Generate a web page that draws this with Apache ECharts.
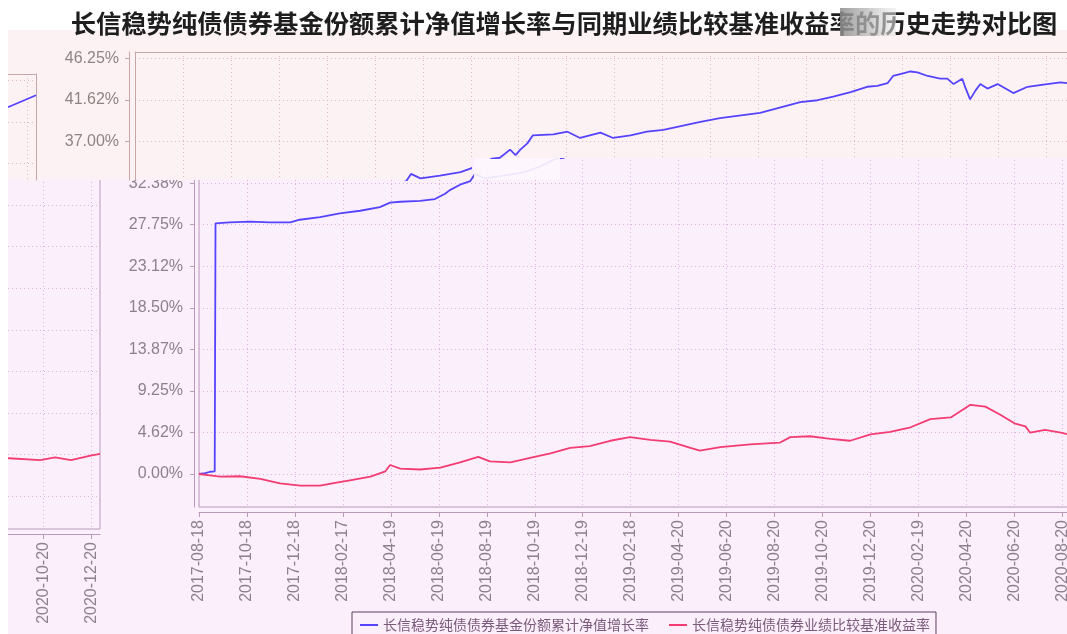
<!DOCTYPE html>
<html><head><meta charset="utf-8">
<script src="https://cdn.jsdelivr.net/npm/echarts@6/dist/echarts.min.js"></script>
<style>html,body{margin:0;padding:0;background:#fff}#c{width:1067px;height:634px}</style>
</head><body><div id="c"></div>
<script>
// ---------------- data ----------------
const titleText = '长信稳势纯债债券基金份额累计净值增长率与同期业绩比较基准收益率的历史走势对比图';
const seriesNames = ['长信稳势纯债债券基金份额累计净值增长率', '长信稳势纯债债券业绩比较基准收益率'];
const xTickLabels = ['2017-08-18','2017-10-18','2017-12-18','2018-02-17','2018-04-19','2018-06-19','2018-08-19',
  '2018-10-19','2018-12-19','2019-02-18','2019-04-20','2019-06-20','2019-08-20','2019-10-20','2019-12-20',
  '2020-02-19','2020-04-20','2020-06-20','2020-08-20','2020-10-20','2020-12-20'];
const yTickValues = [0, 4.625, 9.25, 13.875, 18.5, 23.125, 27.75, 32.375, 37, 41.625, 46.25];
const yTickLabels = ['0.00%','4.62%','9.25%','13.87%','18.50%','23.12%','27.75%','32.38%','37.00%','41.62%','46.25%'];
const lastDate = '2020-12-31';

const navDates = ['2017-08-18','2017-08-26','2017-09-01','2017-09-07','2017-09-08','2017-09-26','2017-10-22','2017-11-16',
  '2017-12-12','2017-12-24','2018-01-19','2018-02-13','2018-03-11','2018-04-05','2018-04-18','2018-05-01','2018-05-26',
  '2018-06-14','2018-06-27','2018-07-03','2018-07-16','2018-07-29','2018-08-04','2018-08-16','2018-09-10','2018-10-06',
  '2018-10-25','2018-11-15','2018-11-25','2018-12-08','2018-12-15','2018-12-21','2018-12-30','2019-01-06','2019-02-01',
  '2019-02-19','2019-03-07','2019-04-02','2019-04-18','2019-05-10','2019-05-31','2019-06-21','2019-08-07','2019-09-01',
  '2019-10-22','2019-12-12','2020-01-03','2020-01-23','2020-02-14','2020-03-06','2020-03-19','2020-04-01','2020-04-08',
  '2020-04-21','2020-04-30','2020-05-09','2020-05-22','2020-06-07','2020-06-16','2020-06-24','2020-07-05','2020-07-09',
  '2020-07-15','2020-07-22','2020-07-28','2020-08-06','2020-08-19','2020-09-08','2020-09-26','2020-10-21','2020-11-07',
  '2020-11-16','2020-11-26','2020-12-31'];
const navValues = [0.00,0.10,0.25,0.30,27.90,28.00,28.10,28.00,
  28.00,28.30,28.60,29.00,29.30,29.70,30.20,30.30,30.40,
  30.60,31.20,31.60,32.20,32.60,33.40,32.90,33.20,33.60,
  34.20,35.10,35.20,36.10,35.50,36.10,36.80,37.70,37.80,
  38.10,37.40,38.00,37.40,37.70,38.10,38.30,39.20,39.60,
  40.20,41.40,41.60,42.00,42.50,43.10,43.20,43.50,44.30,
  44.60,44.80,44.70,44.30,44.00,44.00,43.40,44.00,43.00,
  41.70,42.70,43.40,42.90,43.40,42.40,43.10,43.40,43.60,
  43.50,43.30,44.60];

const benchDates = ['2017-08-18','2017-09-01','2017-09-14','2017-10-09','2017-11-04','2017-11-29','2017-12-25','2018-01-19',
  '2018-02-07','2018-02-26','2018-03-24','2018-04-12','2018-04-18','2018-05-01','2018-05-26','2018-06-21','2018-07-16',
  '2018-08-08','2018-08-23','2018-09-18','2018-10-13','2018-11-08','2018-12-03','2018-12-28','2019-01-23','2019-02-17',
  '2019-03-15','2019-04-09','2019-05-05','2019-05-17','2019-06-12','2019-07-20','2019-08-27','2019-09-09','2019-10-04',
  '2019-10-30','2019-11-24','2019-12-20','2020-01-14','2020-02-09','2020-03-05','2020-03-31','2020-04-25','2020-05-14',
  '2020-06-02','2020-06-21','2020-07-04','2020-07-10','2020-07-29','2020-08-18','2020-09-06','2020-10-16','2020-11-04',
  '2020-11-24','2020-12-19','2020-12-31'];
const benchValues = [0.00,-0.15,-0.30,-0.25,-0.55,-1.05,-1.30,-1.30,
  -1.00,-0.70,-0.30,0.30,1.00,0.60,0.50,0.70,1.30,
  1.90,1.40,1.30,1.80,2.30,2.90,3.10,3.70,4.10,
  3.80,3.60,2.90,2.60,3.00,3.30,3.50,4.10,4.20,
  3.90,3.70,4.40,4.70,5.20,6.10,6.30,7.70,7.50,
  6.60,5.60,5.30,4.60,4.90,4.60,4.20,4.00,4.30,
  4.00,4.50,4.70];

// ---------------- helpers / layout ----------------
const BASE = Date.parse(xTickLabels[0] + 'T00:00:00Z');
const dayOf = s => Math.round((Date.parse(s + 'T00:00:00Z') - BASE) / 864e5);
const fmtDay = d => new Date(BASE + Math.round(d) * 864e5).toISOString().slice(0, 10);
const xTickVals = xTickLabels.map(dayOf);
const X_MAX = dayOf(lastDate);
const Y_MIN = -3.673, Y_MAX = 46.97;
const PL = 199, PT = 52, PW = 968, PH = 455;
const pxPerY = PH / (Y_MAX - Y_MIN);
const WRAP = 1067, TOP_DX = -64, FRAG_DY = 22, BAND_Y = 180, STEP_X = 470, STEP_Y = 158;

const LOW = {bg:'#fbeffb', border:'#b99ab9', split:'#dcb2dc', label:'#8e808e'};
const TOP = {bg:'#fdf2f3', border:'#c6a6a6', split:'#dcbaba', label:'#8e8484'};
const BLUE = '#5544ff', RED = '#f23c72';
const FONT = 'Liberation Sans';

const navData = navDates.map((d, i) => [dayOf(d), navValues[i]]);
const benchData = benchDates.map((d, i) => [dayOf(d), benchValues[i]]);
const yFmt = v => { const i = yTickValues.findIndex(t => Math.abs(t - v) < 1e-6); return i >= 0 ? yTickLabels[i] : ''; };

const grids = [], xAxes = [], yAxes = [], series = [];
function addSeries(gi, xi, yi, z) {
  [navData, benchData].forEach((data, k) => series.push({
    type: 'line', name: seriesNames[k], data, xAxisIndex: xi, yAxisIndex: yi,
    showSymbol: false, symbol: 'none', lineStyle: {width: 1.8, color: k ? RED : BLUE},
    itemStyle: {color: k ? RED : BLUE}, z, silent: true, animation: false, clip: true
  }));
}
function gridBox(left, top, width, height, extra) {
  return Object.assign({left, top, width, height, containLabel: false, outerBoundsMode: 'none'}, extra);
}
// lower band: main grid and wrapped fragment
function lowerGrid(left, top) {
  const gi = grids.length;
  grids.push(gridBox(left, top, PW, PH, {show: true, borderColor: LOW.border, borderWidth: 1,
    backgroundColor: 'transparent', z: 1}));
  const xi = xAxes.length;
  xAxes.push({type: 'value', gridIndex: gi, min: 0, max: X_MAX, position: 'bottom', offset: 5, z: 1,
    axisLine: {show: true, onZero: false, lineStyle: {color: LOW.border}},
    axisTick: {show: true, length: 5, customValues: xTickVals, lineStyle: {color: LOW.border}},
    axisLabel: {show: true, customValues: xTickVals, rotate: 90, margin: 8, formatter: fmtDay,
      color: LOW.label, fontSize: 16, fontFamily: FONT},
    splitLine: {show: true, lineStyle: {type: [1, 3], color: LOW.split}}});
  const yi = yAxes.length;
  yAxes.push({type: 'value', gridIndex: gi, min: Y_MIN, max: Y_MAX, position: 'left', offset: 5, z: 1,
    axisLine: {show: true, onZero: false, lineStyle: {color: LOW.border}},
    axisTick: {show: true, length: 4, customValues: yTickValues, lineStyle: {color: LOW.border}},
    axisLabel: {show: true, customValues: yTickValues, margin: 11, formatter: yFmt,
      color: LOW.label, fontSize: 16, fontFamily: FONT},
    splitLine: {show: true, lineStyle: {type: [1, 3], color: LOW.split}}});
  addSeries(gi, xi, yi, 2);
}
lowerGrid(PL, PT);
lowerGrid(PL - WRAP, PT + FRAG_DY);

// upper band pieces (shifted copy of the upper part of the plot)
function upperGrid(opt) {
  const gi = grids.length;
  const pxPerDay = PW / X_MAX;
  const xmin = (opt.left - opt.fullLeft) / pxPerDay;
  const xmax = (opt.left + opt.width - opt.fullLeft) / pxPerDay;
  const ymax = Y_MAX - (opt.top - opt.fullTop) / pxPerY;
  const ymin = ymax - opt.height / pxPerY;
  grids.push(gridBox(opt.left, opt.top, opt.width, opt.height, {show: false, z: 11}));
  const xi = xAxes.length;
  xAxes.push({type: 'value', gridIndex: gi, min: xmin, max: xmax, position: 'top', z: 11,
    axisLine: {show: opt.topBorder, onZero: false, lineStyle: {color: TOP.border}},
    axisTick: {show: false, customValues: xTickVals}, axisLabel: {show: false, customValues: xTickVals},
    splitLine: {show: true, lineStyle: {type: [1, 3], color: TOP.split}}});
  const yi = yAxes.length;
  yAxes.push({type: 'value', gridIndex: gi, min: ymin, max: ymax, position: 'left', offset: 6, z: 11,
    axisLine: {show: opt.axis, onZero: false, lineStyle: {color: TOP.border}},
    axisTick: {show: opt.axis, length: 4, customValues: yTickValues, lineStyle: {color: TOP.border}},
    axisLabel: {show: opt.axis, customValues: yTickValues, margin: 10, formatter: yFmt,
      color: TOP.label, fontSize: 16, fontFamily: FONT},
    splitLine: {show: true, lineStyle: {type: [1, 3], color: TOP.split}}});
  if (opt.leftBorder) yAxes.push({type: 'value', gridIndex: gi, min: ymin, max: ymax, position: 'left', offset: 0, z: 11,
    axisLine: {show: true, onZero: false, lineStyle: {color: TOP.border}}, axisTick: {show: false},
    axisLabel: {show: false}, splitLine: {show: false}});
  if (opt.rightBorder) yAxes.push({type: 'value', gridIndex: gi, min: ymin, max: ymax, position: 'right', offset: 0, z: 11,
    axisLine: {show: true, onZero: false, lineStyle: {color: TOP.border}}, axisTick: {show: false},
    axisLabel: {show: false}, splitLine: {show: false}});
  addSeries(gi, xi, yi, 12);
}
const TL = PL + TOP_DX;
upperGrid({fullLeft: TL, fullTop: PT, left: TL, top: PT, width: STEP_X - TL, height: BAND_Y - PT,
  topBorder: true, axis: true, leftBorder: true});
upperGrid({fullLeft: TL, fullTop: PT, left: STEP_X, top: PT, width: TL + PW - STEP_X, height: STEP_Y - PT,
  topBorder: true, axis: false});
upperGrid({fullLeft: TL - WRAP, fullTop: PT + FRAG_DY, left: TL - WRAP, top: PT + FRAG_DY, width: PW,
  height: BAND_Y - PT - FRAG_DY, topBorder: true, axis: true, rightBorder: true});

const chart = echarts.init(document.getElementById('c'), null, {renderer: 'canvas'});
chart.setOption({
  backgroundColor: '#ffffff',
  animation: false,
  title: {text: titleText, left: 559, top: 6, textAlign: 'center', z: 31,
    textStyle: {fontSize: 25.3, fontWeight: 'bold', color: '#1e1e1e', fontFamily: 'Noto Sans CJK SC'}},
  legend: {left: 352, top: 612, orient: 'horizontal', data: seriesNames, icon: 'rect', itemWidth: 18, itemHeight: 2,
    itemGap: 20, padding: [6, 6, 8, 8], borderColor: '#5e3e5e', borderWidth: 1, z: 5, selectedMode: false,
    textStyle: {fontSize: 14, color: '#7a5a7a', fontFamily: 'Noto Sans CJK SC'}},
  grid: grids, xAxis: xAxes, yAxis: yAxes, series,
  graphic: {elements: [
    {type: 'rect', silent: true, z: -10, shape: {x: 8, y: 30, width: 1059, height: 604}, style: {fill: LOW.bg}},
    {type: 'polygon', silent: true, z: 10, shape: {points: [[8, 30], [1067, 30], [1067, STEP_Y], [STEP_X, STEP_Y],
      [STEP_X, BAND_Y], [8, BAND_Y]]}, style: {fill: TOP.bg}},
    // washed-out patch seen in the reference just right of the band step
    {type: 'rect', silent: true, z: 9, shape: {x: STEP_X + 4, y: STEP_Y, width: 86, height: BAND_Y - STEP_Y},
      style: {fill: 'rgba(253,246,252,0.92)'}},
    // grey smudge over part of the title in the reference
    {type: 'rect', silent: true, z: 40, shape: {x: 840, y: 8, width: 56, height: 28},
      style: {fill: new echarts.graphic.LinearGradient(0, 0, 1, 0, [
        {offset: 0, color: 'rgba(140,140,140,0.85)'}, {offset: 0.5, color: 'rgba(185,185,185,0.75)'},
        {offset: 1, color: 'rgba(235,235,235,0.55)'}])}},
    {type: 'rect', silent: true, z: 30, shape: {x: 0, y: 0, width: 8, height: 634}, style: {fill: '#ffffff'}}
  ]}
});
</script></body></html>
